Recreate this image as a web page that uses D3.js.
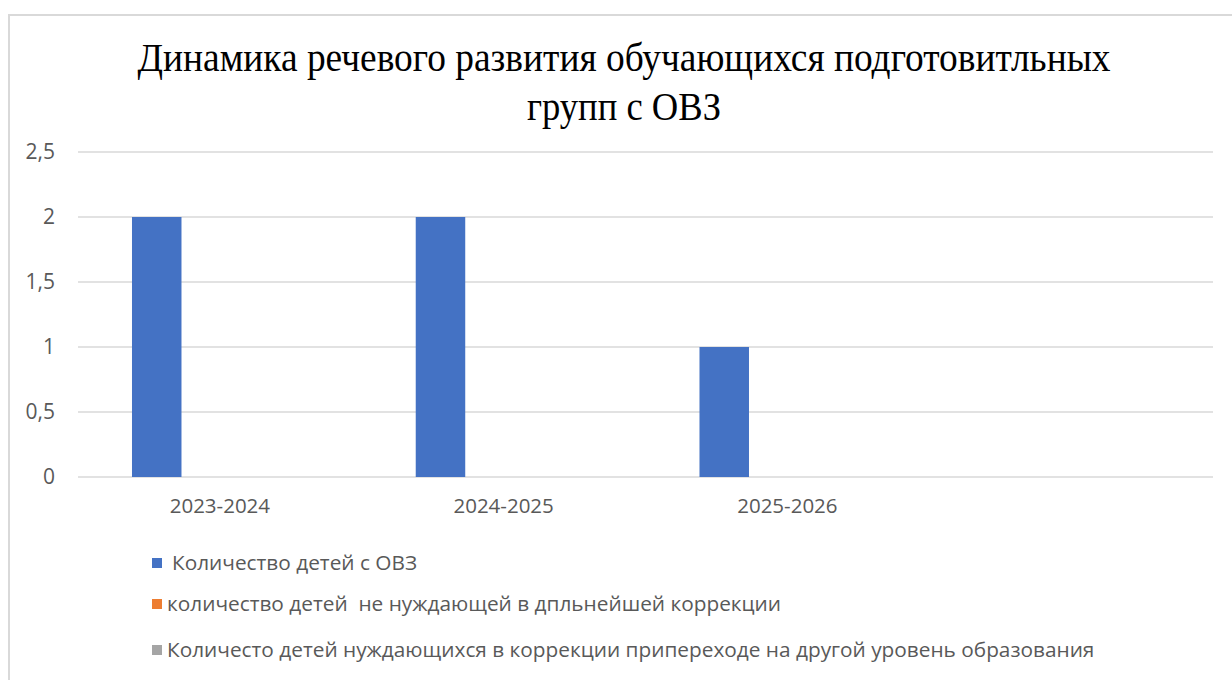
<!DOCTYPE html>
<html>
<head>
<meta charset="utf-8">
<script src="https://cdn.jsdelivr.net/npm/d3@7"></script>
<style>
  body { margin: 0; background: #fff; }
  svg { display: block; }
</style>
</head>
<body>
<div id="chart"></div>
<script>
const categories = ["2023-2024", "2024-2025", "2025-2026", ""];
const seriesNames = [
    "Количество детей с ОВЗ",
    "количество детей  не нуждающей в дпльнейшей коррекции",
    "Количесто детей нуждающихся в коррекции припереходе на другой уровень образования"
];
const seriesColors = ["#4472c4", "#ed7d31", "#a5a5a5"];
const valuesOVZ = [2, 2, 1, null];
const valuesNoCorrection = [0, 0, 0, null];
const valuesNeedCorrection = [0, 0, 0, null];
const yTicks = [0, 0.5, 1, 1.5, 2, 2.5];
const titleLines = ["Динамика речевого развития обучающихся подготовитльных", "групп с ОВЗ"];

const W = 1232, H = 680;
const plot = { left: 78, right: 1213, top: 152, bottom: 477 };
const labelFont = "'Open Sans', sans-serif";

const svg = d3.select("#chart")
    .append("svg")
    .attr("width", W)
    .attr("height", H);

// chart area frame (only top and left edges visible in the crop)
svg.append("path")
    .attr("d", `M9,${H} V15 H${W}`)
    .attr("fill", "none")
    .attr("stroke", "#d9d9d9")
    .attr("stroke-width", 2);

// title
const titleWidths = [973, 194];
svg.selectAll(".title")
    .data(titleLines)
    .enter()
    .append("text")
    .attr("class", "title")
    .attr("x", 624)
    .attr("y", (d, i) => 71 + i * 49)
    .attr("text-anchor", "middle")
    .attr("font-family", "'Liberation Serif', 'Times New Roman', serif")
    .attr("font-size", "41px")
    .attr("fill", "#000")
    .attr("textLength", (d, i) => titleWidths[i])
    .attr("lengthAdjust", "spacingAndGlyphs")
    .text(d => d);

const locale = d3.formatLocale({ decimal: ",", thousands: " ", grouping: [3], currency: ["", ""] });
const fmt = locale.format("~g");

const y = d3.scaleLinear().domain([0, 2.5]).range([plot.bottom, plot.top]);
const x0 = d3.scaleBand().domain(d3.range(categories.length)).range([plot.left, plot.right]).padding(0);
const x1 = d3.scaleBand().domain(d3.range(seriesNames.length)).range([0, x0.bandwidth()])
    .paddingInner(0.216).paddingOuter(0.855);

// gridlines
svg.append("g")
    .selectAll("line")
    .data(yTicks)
    .enter()
    .append("line")
    .attr("x1", plot.left)
    .attr("x2", plot.right)
    .attr("y1", d => y(d))
    .attr("y2", d => y(d))
    .attr("stroke", "#d9d9d9")
    .attr("stroke-width", 1.5);

// y axis labels
const yAxis = svg.append("g")
    .attr("transform", "translate(55,0)")
    .call(d3.axisLeft(y).tickValues(yTicks).tickFormat(fmt).tickSize(0).tickPadding(0));
yAxis.select(".domain").remove();
yAxis.selectAll("text")
    .attr("font-family", labelFont)
    .attr("font-size", "21px")
    .attr("fill", "#595959");

// bars
const seriesValues = [valuesOVZ, valuesNoCorrection, valuesNeedCorrection];
const barData = [];
seriesValues.forEach((vals, s) => {
    vals.forEach((v, c) => {
        if (v !== null) barData.push({ s, c, v });
    });
});
svg.append("g")
    .selectAll("rect")
    .data(barData)
    .enter()
    .append("rect")
    .attr("x", d => x0(d.c) + x1(d.s))
    .attr("width", x1.bandwidth())
    .attr("y", d => y(d.v))
    .attr("height", d => y(0) - y(d.v))
    .attr("fill", d => seriesColors[d.s]);

// x axis labels
const xAxis = svg.append("g")
    .attr("transform", `translate(0,${plot.bottom})`)
    .call(d3.axisBottom(x0).tickFormat(i => categories[i]).tickSize(0).tickPadding(21));
xAxis.select(".domain").remove();
xAxis.selectAll("text")
    .attr("font-family", labelFont)
    .attr("font-size", "20.5px")
    .attr("fill", "#595959");

// legend
const legendY = [563, 604, 650];
const legendTextX = [172, 167, 167];
const legend = svg.append("g")
    .selectAll("g")
    .data(seriesNames)
    .enter()
    .append("g");
legend.append("rect")
    .attr("x", 152)
    .attr("y", (d, i) => legendY[i] - 5)
    .attr("width", 10)
    .attr("height", 10)
    .attr("fill", (d, i) => seriesColors[i]);
legend.append("text")
    .attr("x", (d, i) => legendTextX[i])
    .attr("y", (d, i) => legendY[i])
    .attr("dy", "0.35em")
    .attr("font-family", labelFont)
    .attr("font-size", "20.8px")
    .attr("fill", "#595959")
    .style("white-space", "pre")
    .text(d => d);
</script>
</body>
</html>
